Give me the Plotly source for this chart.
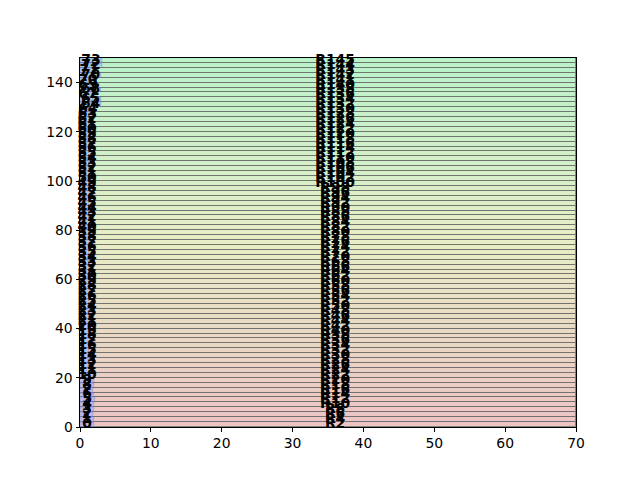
import plotly.graph_objects as go

# ---- data ----
row_centers = [1 + 2 * i for i in range(75)]
left_labels = [0, 1, 2, 3, 4, 5, 6, 7, 8, 9, 10, 11, 12, 13, 14, 15, 16, 17, 18, 19,
               20, 21, 22, 23, 24, 25, 26, 27, 28, 29, 30, 31, 32, 33, 34, 35, 36, 37, 38, 39,
               40, 41, 42, 43, 44, 45, 46, 47, 48, 49, 50, 51, 52, 53, 54, 55, 56, 57, 58, 59,
               60, 61, 62, 63, 64, 64, 65, 67, 68, 69, 70, 70, 71, 72, 73]
mid_labels = [2, 4, 6, 8, 10, 12, 14, 16, 18, 20, 22, 24, 26, 28, 30, 32, 34, 36, 38, 40,
              42, 44, 46, 48, 50, 52, 54, 56, 58, 60, 62, 64, 66, 68, 70, 72, 74, 76, 78, 80,
              82, 84, 86, 88, 90, 92, 94, 96, 98, 100, 102, 104, 106, 108, 110, 112, 114, 116, 118, 120,
              122, 124, 126, 128, 130, 132, 134, 136, 138, 140, 141, 142, 143, 144, 145]
bar_widths = [2.0, 2.0, 1.9, 2.0, 2.0, 2.1, 2.0, 1.9, 2.0, 2.0, 2.0, 2.0, 2.0, 2.0, 2.0, 2.0, 2.0, 2.0, 2.0, 2.0,
              2.0, 2.0, 2.0, 2.0, 2.0, 2.0, 2.0, 2.0, 2.0, 2.0, 2.0, 2.0, 2.0, 2.0, 2.0, 2.0, 2.0, 2.0, 2.0, 2.0,
              2.0, 2.0, 2.0, 2.0, 2.0, 2.0, 2.0, 2.0, 2.0, 2.0, 2.0, 2.0, 2.0, 2.0, 2.0, 2.0, 2.0, 2.0, 2.0, 2.0,
              2.0, 2.0, 2.0, 2.1, 2.2, 3.0, 3.0, 2.2, 3.0, 2.3, 2.2, 3.0, 2.6, 3.1, 3.1]
x_max = 70
x_ticks = [0, 10, 20, 30, 40, 50, 60, 70]
y_ticks = [0, 20, 40, 60, 80, 100, 120, 140]

# ---- band colours (gradient bottom -> middle -> top) ----
stops = [(236, 196, 196), (232, 238, 198), (186, 242, 202)]
n = len(row_centers)
band_colors = []
for i in range(n):
    t = i / (n - 1)
    if t <= 0.5:
        a, b, u = stops[0], stops[1], t / 0.5
    else:
        a, b, u = stops[1], stops[2], (t - 0.5) / 0.5
    c = tuple(round(a[k] + (b[k] - a[k]) * u) for k in range(3))
    band_colors.append("rgb(%d,%d,%d)" % c)

fig = go.Figure()

fig.add_trace(go.Bar(
    orientation="h", y=row_centers, x=[x_max] * n, base=0, width=2,
    marker=dict(color=band_colors, line=dict(color="rgba(95,95,95,0.75)", width=1)),
    hoverinfo="skip", showlegend=False))

fig.add_trace(go.Bar(
    orientation="h", y=row_centers, x=bar_widths, base=0, width=2,
    marker=dict(color="rgba(150,170,250,0.55)", line=dict(color="rgba(90,90,200,0.5)", width=0.5)),
    hoverinfo="skip", showlegend=False))

fig.add_trace(go.Scatter(
    x=[w / 2 for w in bar_widths], y=row_centers, mode="text",
    text=[str(v) for v in left_labels],
    textfont=dict(family="DejaVu Sans", size=13.9, color="black", weight="bold"),
    textposition="middle center", cliponaxis=False, hoverinfo="skip", showlegend=False))

fig.add_trace(go.Scatter(
    x=[36] * n, y=row_centers, mode="text",
    text=["R%d" % v for v in mid_labels],
    textfont=dict(family="DejaVu Sans", size=13.9, color="black", weight="bold"),
    textposition="middle center", cliponaxis=False, hoverinfo="skip", showlegend=False))

axis_common = dict(showgrid=False, zeroline=False, showline=True, mirror=True,
                   linecolor="black", linewidth=1, ticks="outside", ticklen=3.5,
                   tickwidth=1, tickcolor="black",
                   tickfont=dict(family="DejaVu Sans", size=13.9, color="black"))

fig.update_layout(
    width=640, height=480, barmode="overlay", bargap=0,
    margin=dict(l=80, r=64, t=58, b=53),
    plot_bgcolor="white", paper_bgcolor="white",
    xaxis=dict(range=[0, x_max], tickvals=x_ticks, **axis_common),
    yaxis=dict(range=[0, 150], tickvals=y_ticks, **axis_common),
)

fig.write_html("out.html")
